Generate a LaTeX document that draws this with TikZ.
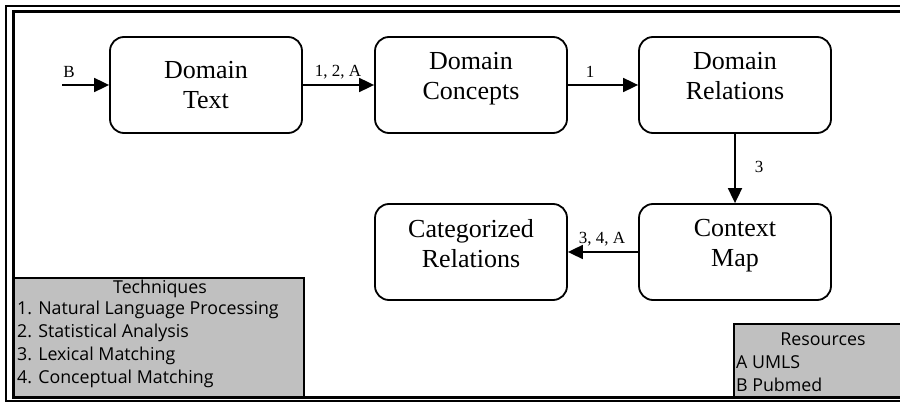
\documentclass[tikz,border=0pt]{standalone}
\usepackage{fontspec}
\setmainfont{Liberation Serif}
\newfontfamily\legendfont{Open Sans}
\usetikzlibrary{arrows.meta}
\definecolor{legendgray}{HTML}{C0C0C0}

\begin{document}
\begin{tikzpicture}[x=1pt,y=-1pt,
  proc/.style={draw, line width=1.8pt, rounded corners=14pt,
    minimum width=192pt, minimum height=96pt, inner sep=0pt,
    align=center, font=\fontsize{26}{30}\selectfont},
  raised/.style={text depth=18pt},
  flow/.style={line width=1.8pt, -{Triangle[length=15pt,width=14pt]}},
  elabel/.style={font=\fontsize{17}{19}\selectfont, inner sep=0pt},
  legendbox/.style={draw, line width=2.4pt, fill=legendgray},
  legendtext/.style={font=\legendfont\fontsize{17.8}{20}\selectfont, inner sep=0pt},
]
\useasboundingbox (0,0) rectangle (900,403);
\clip (0,0) rectangle (900,403);

% legend panels
\draw[legendbox] (13.5,278) rectangle (304,397.5);
\draw[legendbox] (734,324) rectangle (930,397.5);

% double page frame
\draw[line width=2pt] (6,6) rectangle (930,401);
\draw[line width=3pt] (13.5,11.5) rectangle (930,397.5);

% process boxes
\node[proc] (dtext) at (206,85) {Domain\\Text};
\node[proc, raised] (dconc) at (471,85) {Domain\\Concepts};
\node[proc, raised] (drel) at (735,85) {Domain\\Relations};
\node[proc, raised] (cmap) at (735,252) {Context\\Map};
\node[proc, raised] (catrel) at (471,252) {Categorized\\Relations};

% connectors
\coordinate (bstart) at (62,85);
\draw[flow] (bstart) -- (dtext);
\draw[flow] (dtext) -- (dconc);
\draw[flow] (dconc) -- (drel);
\draw[flow] (drel) -- (cmap);
\draw[flow] (cmap) -- (catrel);

% connector labels
\node[elabel] (lb) at (69,72) {B};
\node[elabel] (l12a) at (338,72) {1, 2, A};
\node[elabel] (l1) at (590,72) {1};
\node[elabel] (l3) at (759,167) {3};
\node[elabel] (l34a) at (602,239) {3, 4, A};

% techniques legend
\node[legendtext] (ttitle) at (160,289) {Techniques};
\node[legendtext, anchor=west] (t1) at (17,310) {1. Natural Language Processing};
\node[legendtext, anchor=west] (t2) at (17,333) {2. Statistical Analysis};
\node[legendtext, anchor=west] (t3) at (17,356) {3. Lexical Matching};
\node[legendtext, anchor=west] (t4) at (17,379) {4. Conceptual Matching};

% resources legend
\node[legendtext] (rtitle) at (823,339) {Resources};
\node[legendtext, anchor=west] (r1) at (736,362) {A UMLS};
\node[legendtext, anchor=west] (r2) at (736,385) {B Pubmed};
\end{tikzpicture}
\end{document}
